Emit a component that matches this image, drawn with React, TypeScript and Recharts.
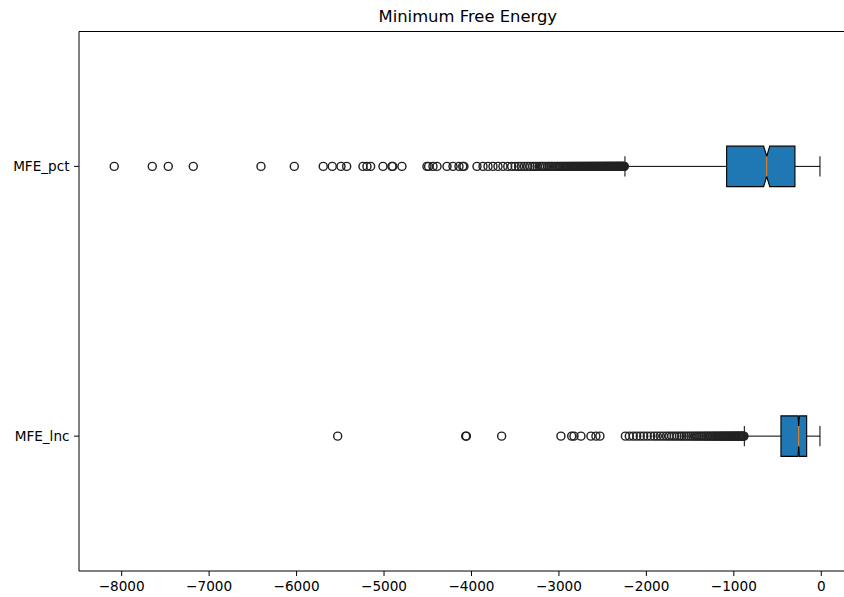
import {
  ComposedChart,
  Scatter,
  XAxis,
  YAxis,
  ReferenceArea,
  ReferenceLine,
} from "recharts";

// box statistics, index 0 = MFE_lnc (position 1), index 1 = MFE_pct (position 2)
const categories = ["MFE_lnc", "MFE_pct"];
const positions = [1, 2];
const q1 = [-461, -1082];
const medians = [-258, -624];
const q3 = [-167, -301];
const whiskerLow = [-880, -2245];
const whiskerHigh = [-15, -15];
const notchHalf = [8, 35];

const lncOutliers = [
  -5530, -4066, -4058, -3655, -2977, -2854, -2828, -2748, -2634, -2577, -2531,
  -2240, -2195, -2150, -2110, -2070, -2030, -1990, -1950, -1910, -1875, -1840,
  -1805, -1770, -1740, -1710, -1680, -1650, -1622, -1595, -1568, -1542, -1516,
  -1490, -1466, -1442, -1420, -1398, -1376, -1355, -1335, -1316, -1298, -1280,
  -1262, -1245, -1228, -1212, -1196, -1180, -1165, -1150, -1136, -1122, -1108,
  -1095, -1082, -1069, -1056, -1044, -1032, -1020, -1008, -997, -986, -975,
  -964, -953, -942, -932, -922, -912, -902, -892, -884,
];

const pctOutliers = [
  -8085, -7650, -7467, -7181, -6407, -6026, -5695, -5592, -5492, -5427, -5241,
  -5195, -5153, -5012, -4909, -4900, -4795, -4509, -4490, -4440, -4394, -4280,
  -4211, -4143, -4100, -4086, -3937, -3868, -3811, -3754, -3697, -3640, -3585,
  -3540, -3500, -3462, -3430, -3395, -3360, -3330, -3300, -3275, -3250, -3222,
  -3200, -3180, -3155, -3130, -3110, -3090, -3070, -3050, -3030, -3012, -2995,
  -2978, -2960, -2945, -2930, -2915, -2900, -2886, -2872, -2858, -2845, -2832,
  -2820, -2808, -2796, -2784, -2772, -2760, -2749, -2738, -2727, -2716, -2706,
  -2696, -2686, -2676, -2666, -2656, -2647, -2638, -2629, -2620, -2611, -2602,
  -2593, -2584, -2575, -2566, -2558, -2550, -2542, -2534, -2526, -2518, -2510,
  -2502, -2494, -2486, -2478, -2470, -2462, -2455, -2448, -2441, -2434, -2427,
  -2420, -2413, -2406, -2399, -2392, -2385, -2378, -2371, -2364, -2357, -2350,
  -2343, -2336, -2330, -2324, -2318, -2312, -2306, -2300, -2294, -2288, -2282,
  -2276, -2270, -2264, -2258, -2252,
];

const outliers = [lncOutliers, pctOutliers];
const xTicks = [-8000, -7000, -6000, -5000, -4000, -3000, -2000, -1000, 0];

const BOX_HALF = 0.075;
const CAP_HALF = 0.0375;
const FONT = "'DejaVu Sans', sans-serif";

const fmt = (v: number) => (v < 0 ? `\u2212${Math.abs(v)}` : `${v}`);

// notched box drawn inside the rect that ReferenceArea computes from q1..q3
const notchedBox = (i: number) => (props: any) => {
  const { x, y, width, height } = props;
  const f = (v: number) => x + ((v - q1[i]) / (q3[i] - q1[i])) * width;
  const lo = f(medians[i] - notchHalf[i]);
  const hi = f(medians[i] + notchHalf[i]);
  const m = f(medians[i]);
  const inset = height / 4;
  const pts = [
    [x, y],
    [lo, y],
    [m, y + inset],
    [hi, y],
    [x + width, y],
    [x + width, y + height],
    [hi, y + height],
    [m, y + height - inset],
    [lo, y + height],
    [x, y + height],
  ]
    .map((p) => p.join(","))
    .join(" ");
  return (
    <g>
      <polygon points={pts} fill="#1f77b4" stroke="#000" strokeWidth={1.1} />
      <line
        x1={m}
        x2={m}
        y1={y + inset}
        y2={y + height - inset}
        stroke="#ff7f0e"
        strokeWidth={1}
      />
    </g>
  );
};

const flier = (p: any) => (
  <circle cx={p.cx} cy={p.cy} r={4} fill="none" stroke="#222" strokeWidth={1.45} />
);

export default function App() {
  return (
    <div
      style={{
        position: "fixed",
        left: 0,
        top: 0,
        width: 844,
        height: 597,
        overflow: "hidden",
        background: "#fff",
        fontFamily: FONT,
      }}
    >
      <ComposedChart
        width={880}
        height={597}
        margin={{ top: 31.5, right: 23.4, bottom: 0, left: 0 }}
      >
        <XAxis
          type="number"
          dataKey="x"
          domain={[-8488, 404]}
          allowDataOverflow
          ticks={xTicks}
          tickFormatter={fmt}
          height={26}
          stroke="#000"
          axisLine={{ stroke: "#000" }}
          tickLine={{ stroke: "#000" }}
          tickSize={5}
          tickMargin={5}
          tick={{ fontSize: 13.6, fill: "#000", fontFamily: FONT }}
        />
        <YAxis
          type="number"
          dataKey="y"
          domain={[0.5, 2.5]}
          allowDataOverflow
          ticks={positions}
          tickFormatter={(v: number) => categories[positions.indexOf(v)] ?? ""}
          width={79}
          stroke="#000"
          axisLine={{ stroke: "#000" }}
          tickLine={{ stroke: "#000" }}
          tickSize={5}
          tickMargin={4.5}
          tick={{ fontSize: 13.6, fill: "#000", fontFamily: FONT }}
        />
        {/* top and right spines */}
        <ReferenceLine y={2.5} stroke="#000" strokeWidth={1} />
        <ReferenceLine x={404} stroke="#000" strokeWidth={1} />

        {positions.map((pos, i) => (
          <ReferenceArea
            key={`box-${i}`}
            x1={q1[i]}
            x2={q3[i]}
            y1={pos - BOX_HALF}
            y2={pos + BOX_HALF}
            shape={notchedBox(i)}
          />
        ))}
        {positions.map((pos, i) => (
          <ReferenceLine
            key={`wl-${i}`}
            segment={[
              { x: whiskerLow[i], y: pos },
              { x: q1[i], y: pos },
            ]}
            stroke="#000"
            strokeWidth={1}
          />
        ))}
        {positions.map((pos, i) => (
          <ReferenceLine
            key={`wh-${i}`}
            segment={[
              { x: q3[i], y: pos },
              { x: whiskerHigh[i], y: pos },
            ]}
            stroke="#000"
            strokeWidth={1}
          />
        ))}
        {positions.map((pos, i) => (
          <ReferenceLine
            key={`cl-${i}`}
            segment={[
              { x: whiskerLow[i], y: pos - CAP_HALF },
              { x: whiskerLow[i], y: pos + CAP_HALF },
            ]}
            stroke="#000"
            strokeWidth={1}
          />
        ))}
        {positions.map((pos, i) => (
          <ReferenceLine
            key={`ch-${i}`}
            segment={[
              { x: whiskerHigh[i], y: pos - CAP_HALF },
              { x: whiskerHigh[i], y: pos + CAP_HALF },
            ]}
            stroke="#000"
            strokeWidth={1}
          />
        ))}

        {positions.map((pos, i) => (
          <Scatter
            key={`fl-${i}`}
            data={outliers[i].map((v) => ({ x: v, y: pos }))}
            shape={flier}
            isAnimationActive={false}
          />
        ))}
      </ComposedChart>
      <svg
        width={844}
        height={30}
        style={{ position: "absolute", left: 0, top: 0 }}
      >
        <text
          x={467.8}
          y={22}
          textAnchor="middle"
          fontSize={16.4}
          fontFamily={FONT}
          fill="#000"
        >
          Minimum Free Energy
        </text>
      </svg>
    </div>
  );
}
